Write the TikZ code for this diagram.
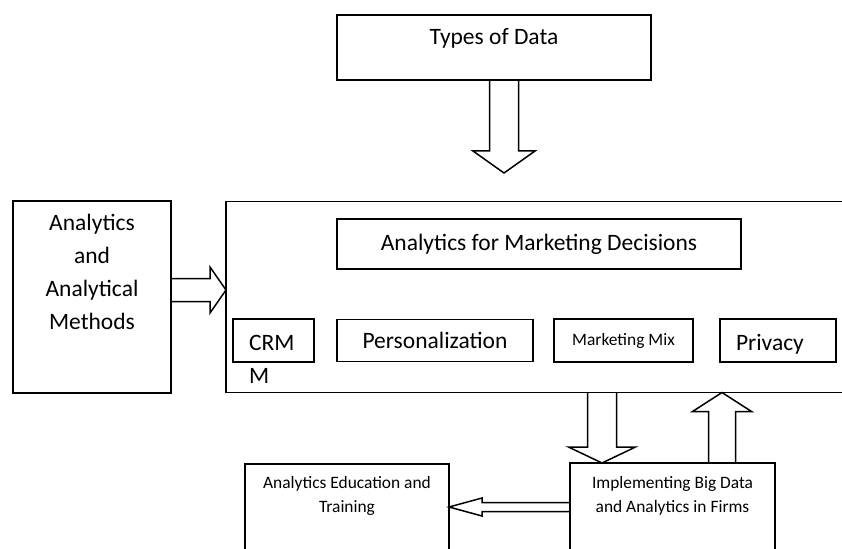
\documentclass[tikz,border=0pt]{standalone}
\usepackage{fontspec}
\setmainfont{Carlito}
\usetikzlibrary{positioning,calc}

% hollow block arrow: from, to, half shaft, half head, head length
\newcommand\BigArrow[5]{%
\draw[BigArrowStyle] let \p1=(#1), \p2=(#2),
	\n1={atan2(\y2-\y1,\x2-\x1)}, \n2={veclen(\x2-\x1,\y2-\y1)} in
	[shift={(\p1)}, rotate=\n1]
	(0,#3) -- ({\n2-#5},#3) -- ({\n2-#5},#4) -- (\n2,0)
	-- ({\n2-#5},-#4) -- ({\n2-#5},-#3) -- (0,-#3);
}

\begin{document}
\begin{tikzpicture}[x=1pt,y=-1pt]
\useasboundingbox (0,0) rectangle (842,548);
\tikzset{Box/.style = 
	{shape = rectangle,
		draw,
		line width=1.5pt,
		inner sep=0pt,
		outer sep=0pt},
	BigText/.style = {font=\fontsize{23.5}{33}\selectfont, align=center, inner sep=0pt},
	SmallText/.style = {font=\fontsize{17.4}{24}\selectfont, align=center, inner sep=0pt},
	BigArrowStyle/.style = {line width=1.5pt, line join=miter}}

% boxes
\node[Box, minimum width=314pt, minimum height=65pt] (types) at (494,47.5) {};
\node[Box, minimum width=158pt, minimum height=192pt] (methods) at (92,297) {};
\node[Box, minimum width=624pt, minimum height=191pt, right=55pt of methods] (main) {};
\node[Box, BigText, minimum width=404pt, minimum height=50pt] (amd) at (539,244) {Analytics for Marketing Decisions};
\node[Box, minimum width=81pt, minimum height=43pt] (crm) at (273.5,340.5) {};
\node[Box, BigText, minimum width=196pt, minimum height=42pt, right=23pt of crm] (pers) {Personalization};
\node[Box, SmallText, minimum width=139pt, minimum height=43pt, right=21pt of pers] (mix) {Marketing Mix};
\node[Box, BigText, text width=84pt, align=left, inner xsep=16pt, text height=20pt, text depth=0pt,
	minimum height=43pt, right=27pt of mix] (privacy) {Privacy};
\node[Box, minimum width=205pt, minimum height=97pt] (impl) at (672.5,511.5) {};
\node[Box, minimum width=204pt, minimum height=96pt] (edu) at (347,512) {};

% texts
\node[BigText, below=13pt of types.north] (typestxt) {Types of Data};
\node[BigText, below=13pt of methods.north] (methodstxt) {Analytics\\and\\Analytical\\Methods};
\node[BigText, align=left, anchor=north west] (crmtxt) at (249,335.5) {CRM\\M};
\node[SmallText, below=13pt of impl.north] (impltxt) {Implementing Big Data\\and Analytics in Firms};
\node[SmallText, below=12.5pt of edu.north] (edutxt) {Analytics Education and\\Training};

% arrows
\coordinate (datain) at (504,173);
\BigArrow{$(types.south)+(10,0)$}{datain}{14.5}{31}{22}
\BigArrow{$(methods.east)+(0,-7)$}{$(main.west)+(0,-7)$}{11.5}{23}{16}
\BigArrow{$(main.south)+(64,0)$}{$(impl.north)+(-70.5,0)$}{14.5}{33.5}{16}
\BigArrow{$(impl.north)+(49.5,0)$}{$(main.south)+(184,0)$}{13.5}{29.5}{19}
\BigArrow{$(impl.west)+(0,-4.5)$}{$(edu.east)+(0,-5)$}{4.5}{9}{33}
\end{tikzpicture}
\end{document}
